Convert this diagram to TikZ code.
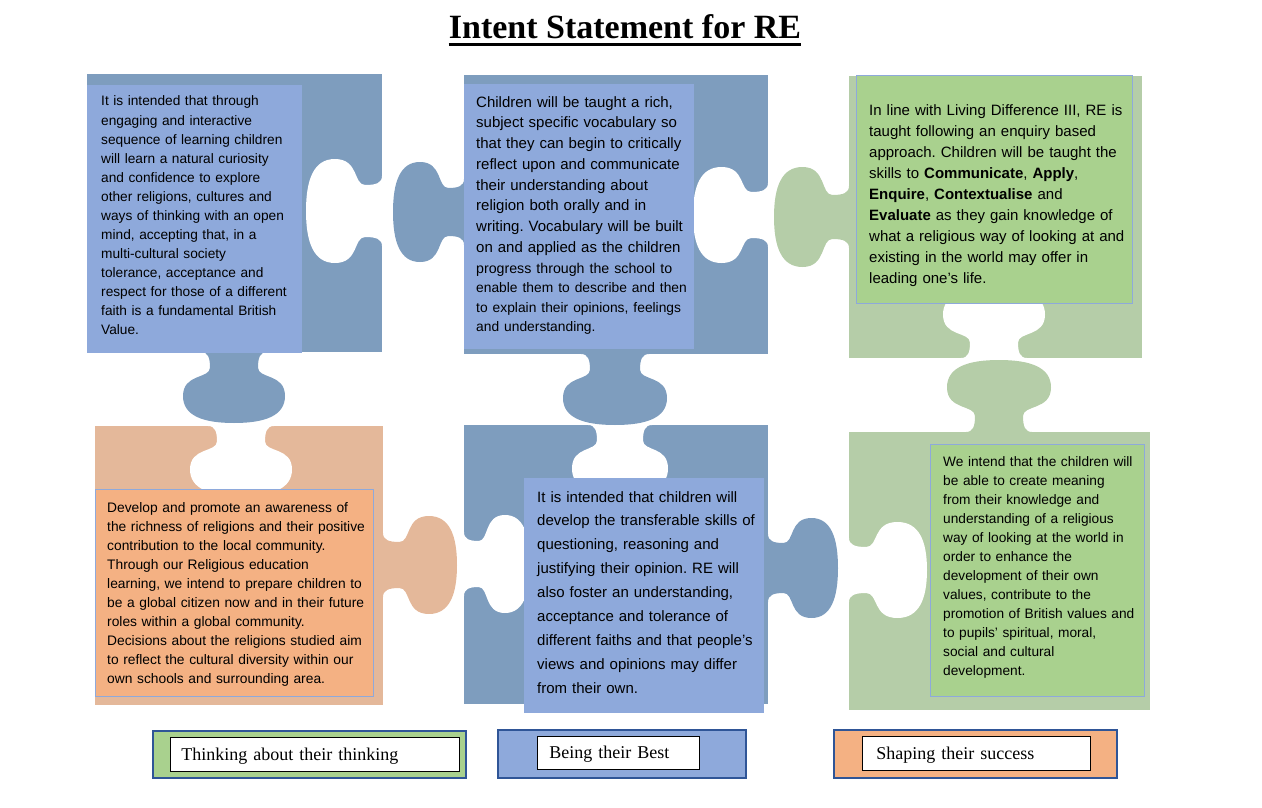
\documentclass[tikz,border=0pt]{standalone}
\usepackage{fontspec}
\setmainfont{Liberation Sans}
\newfontfamily\serifface{Liberation Serif}
\definecolor{pieceblue}{HTML}{7E9DBE}
\definecolor{boxblue}{HTML}{8EA9DB}
\definecolor{piecegreen}{HTML}{B5CDA8}
\definecolor{boxgreen}{HTML}{A9D18E}
\definecolor{piecepeach}{HTML}{E4B89A}
\definecolor{boxpeach}{HTML}{F4B183}
\definecolor{legborder}{HTML}{2F5597}
\frenchspacing
% #1 fill, #2 x, #3 y, #4 rotation, #5 half neck, #6 half bulb, #7 depth
\newcommand{\knob}[7]{%
\fill[#1, shift={(#2,#3)}, rotate=#4]
 (-#5-9,-3) -- (-#5-9,0) .. controls (-#5-2,0) and (-#5,0.08*#7) .. (-#5,0.22*#7)
 .. controls (-#5,0.38*#7) and (-#6,0.3*#7) .. (-#6,0.62*#7)
 .. controls (-#6,0.9*#7) and (-0.6*#6,#7) .. (0,#7)
 .. controls (0.6*#6,#7) and (#6,0.9*#7) .. (#6,0.62*#7)
 .. controls (#6,0.3*#7) and (#5,0.38*#7) .. (#5,0.22*#7)
 .. controls (#5,0.08*#7) and (#5+2,0) .. (#5+9,0) -- (#5+9,-3) -- cycle;}
\begin{document}
\begin{tikzpicture}[x=1pt,y=-1pt,
  tbox/.style={anchor=north west, inner sep=0pt, outer sep=0pt},
  para/.style={anchor=base west, inner sep=0pt, text width=330pt, align=left},
  legout/.style={anchor=north west, draw=legborder, line width=2.2pt, inner sep=0pt},
  legin/.style={anchor=north west, draw=black, line width=0.9pt, fill=white, align=left,
     font=\serifface\fontsize{18}{21}\selectfont, inner ysep=0pt, text height=13.5pt, text depth=1.5pt}]
\useasboundingbox (0,0) rectangle (1262,808);
% title
\node[font=\serifface\bfseries\fontsize{34}{40}\selectfont, anchor=base, inner sep=0pt] (ttl) at (625,39) {Intent Statement for RE};
\draw[line width=3.2pt] ([yshift=-5.4pt]ttl.base west) -- ([yshift=-5.4pt]ttl.base east);
% piece bodies
\fill[pieceblue] (87,74) rectangle (382,352);
\fill[pieceblue] (464,75) rectangle (768,354);
\fill[piecegreen] (849,76) rectangle (1142,358);
\fill[piecepeach] (95,426) rectangle (383,705);
\fill[pieceblue] (464,425) rectangle (768,704);
\fill[piecegreen] (849,432) rectangle (1150,710);
% holes
\knob{white}{382}{211}{-90}{26}{52}{76}
\knob{white}{768}{215}{-90}{23}{48}{75}
\knob{white}{994}{358}{180}{24}{51}{70}
\knob{white}{849}{570}{90}{23}{48}{78}
\knob{white}{241}{426}{0}{24}{51}{70}
\knob{white}{620}{425}{0}{23}{48}{70}
\knob{white}{464}{564}{90}{23}{49}{66}
% tabs
\knob{pieceblue}{234}{352}{0}{24}{51}{71}
\knob{pieceblue}{464}{212}{-90}{24}{50}{71}
\knob{pieceblue}{615}{354}{0}{25}{52}{71}
\knob{piecegreen}{849}{217}{-90}{22}{50}{75}
\knob{piecegreen}{999}{432}{180}{24}{52}{72}
\knob{piecepeach}{383}{565}{90}{23}{49}{74}
\knob{pieceblue}{768}{568}{90}{25}{50}{70}
% text boxes
\node[tbox, fill=boxblue, minimum width=215pt, minimum height=268pt] (tlbox) at (87,85) {};
\node[tbox, fill=boxblue, minimum width=230pt, minimum height=265pt] (tmbox) at (464,84) {};
\node[tbox, fill=boxgreen, draw=boxblue, line width=0.8pt, minimum width=276pt, minimum height=228pt] (trbox) at (856,75) {};
\node[tbox, fill=boxpeach, draw=boxblue, line width=0.8pt, minimum width=278pt, minimum height=207pt] (blbox) at (95,489) {};
\node[tbox, fill=boxblue, minimum width=240pt, minimum height=235pt] (bmbox) at (524,478) {};
\node[tbox, fill=boxgreen, draw=boxblue, line width=0.8pt, minimum width=214pt, minimum height=252pt] (brbox) at (930,444) {};
% texts
\node[para, font=\fontsize{13.7}{19.08}\selectfont] (tltext) at (101,106) {It is intended that through\\
engaging and interactive\\
sequence of learning children\\
will learn a natural curiosity\\
and confidence to explore\\
other religions, cultures and\\
ways of thinking with an open\\
mind, accepting that, in a\\
multi-cultural society\\
tolerance, acceptance and\\
respect for those of a different\\
faith is a fundamental British\\
Value.};
\node[para, font=\fontsize{15}{20.8}\selectfont] (tmtext) at (476,107) {Children will be taught a rich,\par
subject specific vocabulary so\par
that they can begin to critically\par
reflect upon and communicate\par
their understanding about\par
religion both orally and in\par
writing. Vocabulary will be built\par
on and applied as the children\par
{\fontsize{14.2}{20.6}\selectfont progress through the school to\par}
{\fontsize{13.8}{19.3}\selectfont enable them to describe and then\par}
{\fontsize{13.8}{19.8}\selectfont to explain their opinions, feelings\par}
{\fontsize{13.8}{19.4}\selectfont and understanding.\par}};
\node[para, font=\fontsize{15}{20.9}\selectfont] (trtext) at (869,116) {In line with Living Difference III, RE is\\
taught following an enquiry based\\
approach. Children will be taught the\\
skills to \textbf{Communicate}, \textbf{Apply},\\
\textbf{Enquire}, \textbf{Contextualise} and\\
\textbf{Evaluate} as they gain knowledge of\\
what a religious way of looking at and\\
existing in the world may offer in\\
leading one’s life.};
\node[para, font=\fontsize{13.8}{19}\selectfont] (bltext) at (107,512) {Develop and promote an awareness of\\
the richness of religions and their positive\\
contribution to the local community.\\
Through our Religious education\\
learning, we intend to prepare children to\\
be a global citizen now and in their future\\
roles within a global community.\\
Decisions about the religions studied aim\\
to reflect the cultural diversity within our\\
own schools and surrounding area.};
\node[para, font=\fontsize{15}{23.9}\selectfont] (bmtext) at (537,502) {It is intended that children will\\
develop the transferable skills of\\
questioning, reasoning and\\
justifying their opinion. RE will\\
also foster an understanding,\\
acceptance and tolerance of\\
different faiths and that people’s\\
views and opinions may differ\\
from their own.};
\node[para, font=\fontsize{13.7}{19}\selectfont] (brtext) at (943,466) {We intend that the children will\\
be able to create meaning\\
from their knowledge and\\
understanding of a religious\\
way of looking at the world in\\
order to enhance the\\
development of their own\\
values, contribute to the\\
promotion of British values and\\
to pupils’ spiritual, moral,\\
social and cultural\\
development.};
% legend
\node[legout, fill=boxgreen, minimum width=313pt, minimum height=47pt] (lg1) at (152,730) {};
\node[legin, minimum height=34pt, text width=267pt, inner xsep=11pt] (lg1in) at (170,737) {Thinking about their thinking};
\node[legout, fill=boxblue, minimum width=248pt, minimum height=48pt] (lg2) at (497,729) {};
\node[legin, minimum height=33pt, text width=138pt, inner xsep=12pt] (lg2in) at (537,736) {Being their Best};
\node[legout, fill=boxpeach, minimum width=283pt, minimum height=48pt] (lg3) at (833,729) {};
\node[legin, minimum height=34pt, text width=200pt, inner xsep=14pt] (lg3in) at (862,736) {Shaping their success};
\end{tikzpicture}
\end{document}
